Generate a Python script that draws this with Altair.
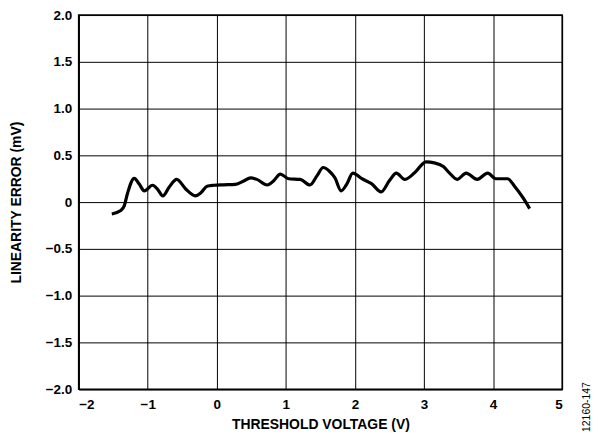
import altair as alt
import pandas as pd

# Threshold voltage (V)
x_vals = [-1.52, -1.39, -1.34, -1.29, -1.195, -1.12, -1.05, -0.93, -0.86, -0.78,
          -0.69, -0.58, -0.45, -0.31, -0.23, -0.14, -0.04, 0.10, 0.27, 0.39,
          0.49, 0.58, 0.73, 0.82, 0.92, 1.04, 1.21, 1.35, 1.45, 1.54,
          1.63, 1.71, 1.80, 1.88, 1.97, 2.10, 2.24, 2.38, 2.50, 2.60,
          2.72, 2.86, 3.03, 3.15, 3.28, 3.37, 3.48, 3.61, 3.77, 3.92,
          4.04, 4.21, 4.31, 4.43, 4.53]
# Linearity error (mV)
y_vals = [-0.127, -0.09, -0.04, 0.10, 0.254, 0.19, 0.12, 0.18, 0.14, 0.067,
          0.16, 0.243, 0.14, 0.067, 0.10, 0.17, 0.18, 0.185, 0.19, 0.225,
          0.26, 0.243, 0.183, 0.225, 0.30, 0.25, 0.243, 0.183, 0.28, 0.37,
          0.33, 0.26, 0.12, 0.19, 0.31, 0.25, 0.197, 0.11, 0.23, 0.31,
          0.243, 0.31, 0.43, 0.42, 0.38, 0.31, 0.243, 0.31, 0.243, 0.31,
          0.25, 0.25, 0.17, 0.05, -0.07]

x_ticks = [-2, -1, 0, 1, 2, 3, 4, 5]
y_ticks = [-2.0, -1.5, -1.0, -0.5, 0, 0.5, 1.0, 1.5, 2.0]

df = pd.DataFrame({"v": x_vals, "err": y_vals})

FONT = "Liberation Sans"

line = alt.Chart(df).mark_line(
    color="black", strokeWidth=3.2, interpolate="monotone"
).encode(
    x=alt.X("v:Q",
            scale=alt.Scale(domain=[-2, 5], nice=False, zero=False),
            axis=alt.Axis(values=x_ticks, title="THRESHOLD VOLTAGE (V)",
                          labelExpr="replace(format(datum.value,'d'),'-','−')",
                          grid=True, gridColor="black", gridWidth=1, gridOpacity=1,
                          domainColor="black", domainWidth=1.5,
                          ticks=False, labelPadding=8,
                          labelFont=FONT, labelFontSize=13.5, labelFontWeight="bold",
                          labelColor="black",
                          titleFont=FONT, titleFontSize=14, titleFontWeight="bold",
                          titleColor="black", titlePadding=7)),
    y=alt.Y("err:Q",
            scale=alt.Scale(domain=[-2, 2], nice=False, zero=False),
            axis=alt.Axis(values=y_ticks, title="LINEARITY ERROR (mV)",
                          labelExpr="datum.value == 0 ? '0' : replace(format(datum.value,'.1f'),'-','−')",
                          grid=True, gridColor="black", gridWidth=1, gridOpacity=1,
                          domainColor="black", domainWidth=1.5,
                          ticks=False, labelPadding=7,
                          labelFont=FONT, labelFontSize=13.5, labelFontWeight="bold",
                          labelColor="black",
                          titleFont=FONT, titleFontSize=14, titleFontWeight="bold",
                          titleColor="black", titlePadding=22)),
)

note = alt.Chart(pd.DataFrame({"t": ["12160-147"]})).mark_text(
    angle=270, font=FONT, fontSize=10.5, color="black"
).encode(
    text="t:N",
    x=alt.value(511),
    y=alt.value(394),
)

chart = alt.layer(line, note).properties(
    width=486, height=376,
    autosize=alt.AutoSizeParams(type="none"),
    padding={"left": 71, "top": 6, "right": 30, "bottom": 46},
).configure_view(stroke="black", strokeWidth=1.5)

chart.save("out.html", embed_options={"renderer": "svg", "actions": False})
